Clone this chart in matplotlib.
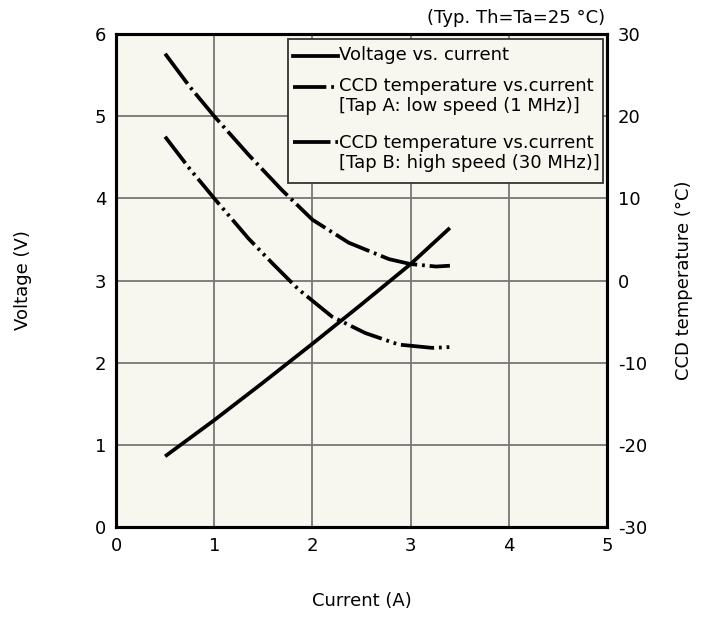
import matplotlib
matplotlib.use("Agg")
import matplotlib.pyplot as plt
from matplotlib.lines import Line2D
from matplotlib.patches import Rectangle

# Voltage vs. current
current_v = [0.5, 1.0, 1.5, 2.0, 2.5, 3.0, 3.4]
voltage = [0.86, 1.3, 1.76, 2.23, 2.71, 3.2, 3.64]

# CCD temperature, Tap A (low speed, 1 MHz)
current_a = [0.5, 0.75, 1.0, 1.35, 1.6, 1.86, 2.2, 2.54, 2.88, 3.22, 3.4]
temp_a = [17.5, 13.6, 10.0, 5.1, 2.0, -1.1, -4.4, -6.4, -7.8, -8.2, -8.1]

# CCD temperature, Tap B (high speed, 30 MHz)
current_b = [0.5, 0.75, 1.0, 1.35, 1.69, 2.0, 2.37, 2.78, 3.0, 3.26, 3.4]
temp_b = [27.6, 23.6, 20.0, 15.3, 11.0, 7.4, 4.6, 2.6, 2.0, 1.7, 1.8]

x_ticks = [0, 1, 2, 3, 4, 5]
v_ticks = [0, 1, 2, 3, 4, 5, 6]
t_ticks = [-30, -20, -10, 0, 10, 20, 30]

legend_labels = ["Voltage vs. current",
                 "CCD temperature vs.current\n[Tap A: low speed (1 MHz)]",
                 "CCD temperature vs.current\n[Tap B: high speed (30 MHz)]"]

plt.rcParams['font.family'] = ['DejaVu Sans']
plt.rcParams['axes.unicode_minus'] = False
plt.rcParams['lines.scale_dashes'] = False

FS = 13
dash_a = (24, 3.5, 2, 3.5, 2, 3.5)
dash_b = (27, 3.5, 2, 3.5)

fig = plt.figure(figsize=(7.01, 6.21), dpi=100)
ax = fig.add_axes([116 / 701, 94 / 621, 491 / 701, 493 / 621])
ax.set_facecolor('#f7f7f0')
ax2 = ax.twinx()

ax.set_xlim(0, 5)
ax.set_ylim(0, 6)
ax2.set_ylim(-30, 30)
ax.set_xticks(x_ticks)
ax.set_yticks(v_ticks)
ax2.set_yticks(t_ticks)
ax.grid(True, color='#777777', linewidth=1.3)
ax.tick_params(axis='both', length=0, labelsize=FS)
ax.tick_params(axis='x', pad=7)
ax.tick_params(axis='y', pad=7)
ax2.tick_params(length=0, labelsize=FS, pad=8)
for a in (ax, ax2):
    for s in a.spines.values():
        s.set_linewidth(2.2)
        s.set_color('black')

ax.plot(current_v, voltage, color='black', linewidth=2.7, solid_capstyle='butt')
ax2.plot(current_a, temp_a, color='black', linewidth=2.7, dashes=dash_a)
ax2.plot(current_b, temp_b, color='black', linewidth=2.7, dashes=dash_b)

# legend drawn in axes coordinates
tr = ax2.transAxes
ax2.add_patch(Rectangle((0.350, 0.698), 0.642, 0.291, transform=tr,
                        facecolor='#f7f7f0', edgecolor='#333333', linewidth=1.3, zorder=5))
hx0, hx1, tx = 0.360, 0.452, 0.454
rows = [(0.955, None, legend_labels[0], 0.957),
        (0.893, dash_a, legend_labels[1], 0.874),
        (0.780, dash_b, legend_labels[2], 0.758)]
for hy, dsh, lab, ty in rows:
    ln = Line2D([hx0, hx1], [hy, hy], transform=tr, color='black', linewidth=2.7, zorder=6)
    if dsh is not None:
        ln.set_dashes(dsh)
    ax2.add_line(ln)
    ax2.text(tx, ty, lab, transform=tr, fontsize=FS, va='center', ha='left',
             linespacing=1.15, zorder=6)

ax.set_xlabel("Current (A)", fontsize=FS, labelpad=27)
ax.set_ylabel("Voltage (V)", fontsize=FS, labelpad=45)
ax2.set_ylabel("CCD temperature (°C)", fontsize=FS, labelpad=20)
fig.text(605 / 701, 1 - 18 / 621, "(Typ. Th=Ta=25 °C)", ha='right', va='center', fontsize=FS)

fig.savefig("out.png", dpi=100)
